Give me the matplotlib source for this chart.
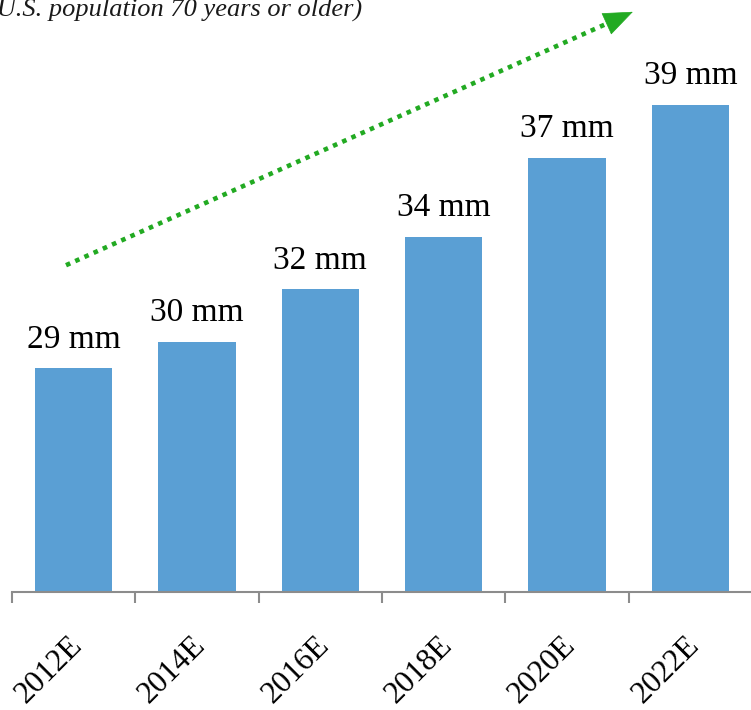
import matplotlib
matplotlib.use("Agg")
import matplotlib.pyplot as plt
from matplotlib.transforms import ScaledTranslation

years = ["2012E", "2014E", "2016E", "2018E", "2020E", "2022E"]
population_mm = [29, 30, 32, 34, 37, 39]
subtitle = "(U.S. population 70 years or older)"

BAR_COLOR = "#5a9fd4"
ARROW_COLOR = "#22aa22"
AXIS_COLOR = "#8c8c8c"

plt.rcParams["font.family"] = ["Liberation Serif", "DejaVu Serif"]

fig = plt.figure(figsize=(7.51, 7.10), dpi=100)
ax = fig.add_axes([12 / 751, 118 / 710, 740 / 751, 592 / 710])

x = list(range(len(years)))
ax.bar(x, population_mm, width=0.625, color=BAR_COLOR, zorder=2)

# value labels above each bar
for xi, v in zip(x, population_mm):
    ax.annotate(f"{v} mm", xy=(xi, v), xytext=(0, 15), textcoords="offset points",
                ha="center", va="baseline", fontsize=24, color="black")

ax.set_xlim(-0.5, len(years) - 0.5)
ax.set_ylim(20.5, 43.0)

for side in ("left", "right", "top"):
    ax.spines[side].set_visible(False)
ax.spines["bottom"].set_color(AXIS_COLOR)
ax.spines["bottom"].set_linewidth(1.5)
ax.set_yticks([])

# category labels at centres, tick marks at the boundaries
ax.set_xticks(x)
ax.set_xticklabels(years, rotation=45, ha="right", va="top",
                   rotation_mode="anchor", fontsize=22.5)
ax.tick_params(axis="x", which="major", length=0, pad=28)
ax.set_xticks([i - 0.5 for i in x], minor=True)
ax.tick_params(axis="x", which="minor", length=8, width=1.5, color=AXIS_COLOR)
shift = ScaledTranslation(-6 / 100, 0, fig.dpi_scale_trans)
for lbl in ax.get_xticklabels():
    lbl.set_transform(lbl.get_transform() + shift)

# dotted growth arrow: dotted shaft plus a solid head
start = (0.073, 0.552)
head_base = (0.8046, 0.9605)
tip = (0.839, 0.980)
ax.plot([start[0], head_base[0]], [start[1], head_base[1]], transform=ax.transAxes,
        color=ARROW_COLOR, lw=3.3, dashes=(1, 1.2), dash_capstyle="butt",
        clip_on=False, zorder=3)
ax.annotate("", xy=tip, xytext=head_base, xycoords="axes fraction",
            textcoords="axes fraction",
            arrowprops=dict(arrowstyle="-|>,head_length=2.0,head_width=0.8",
                            color=ARROW_COLOR, lw=0.5, shrinkA=0, shrinkB=0),
            annotation_clip=False, zorder=3)

fig.text(362 / 751, 1 - 17 / 710, subtitle, ha="right", va="baseline",
         fontsize=19, style="italic", color="#1a1a1a")

fig.savefig("out.png", dpi=100)
